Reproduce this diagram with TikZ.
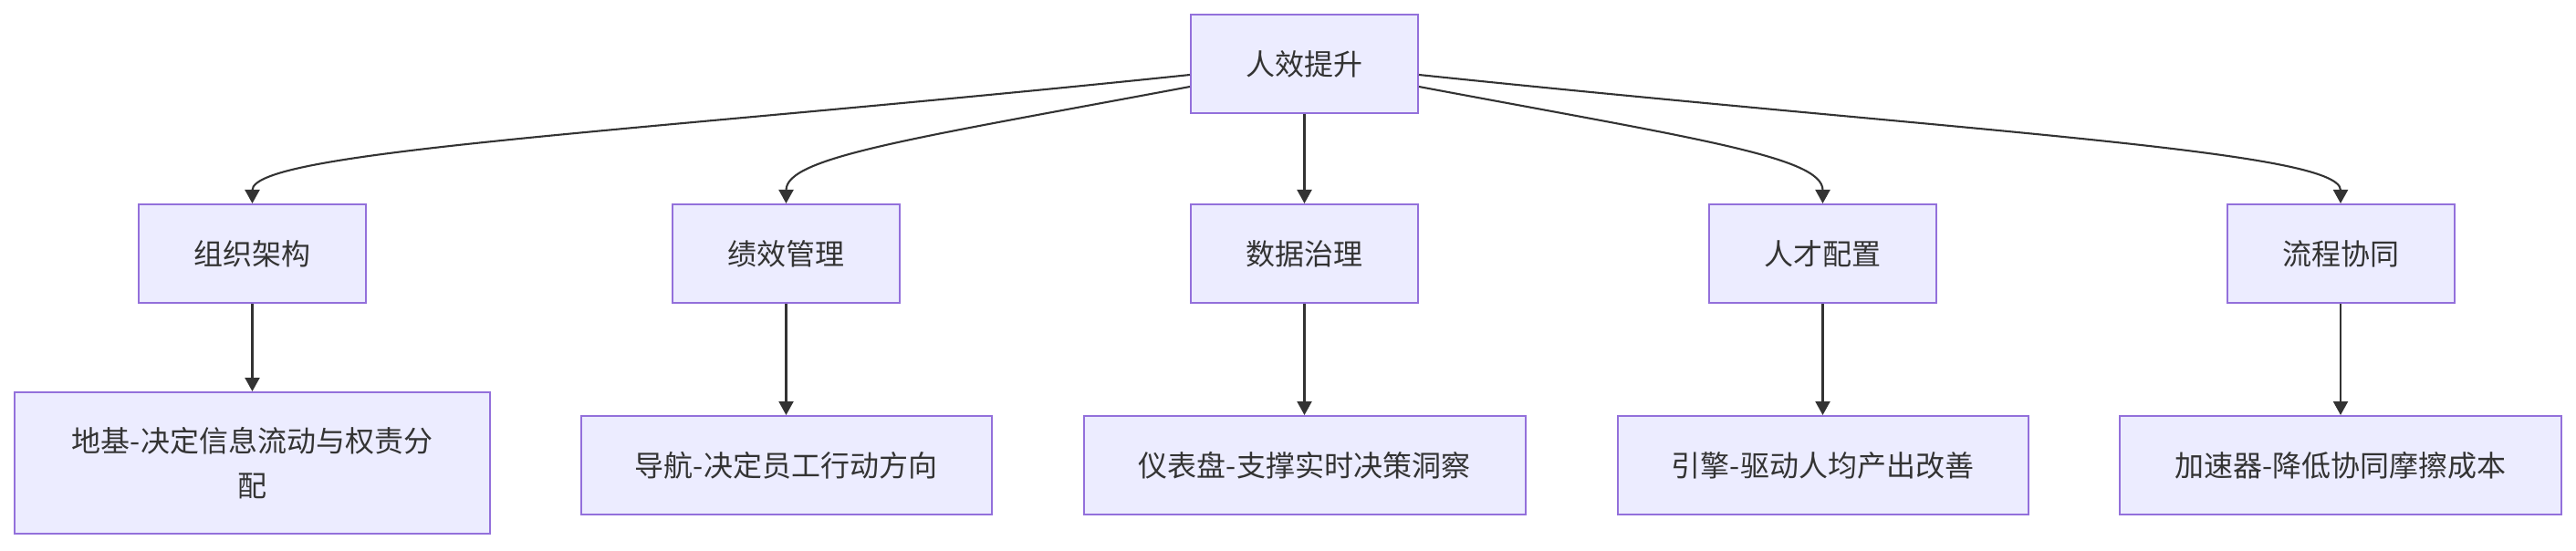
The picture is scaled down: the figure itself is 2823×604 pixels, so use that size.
\documentclass[tikz,border=0pt]{standalone}
\usepackage{fontspec}
\setmainfont{Noto Sans CJK SC}
\usetikzlibrary{arrows.meta}
\definecolor{boxfill}{HTML}{ECECFF}
\definecolor{boxline}{HTML}{9370DB}
\definecolor{ink}{HTML}{333333}
\tikzset{
  box/.style={draw=boxline, fill=boxfill, line width=2pt, inner sep=0pt,
    text=ink, align=center, font=\fontsize{32}{49}\selectfont},
  conn/.style={draw=ink, line width=2.1pt, -{Triangle[length=15pt,width=16pt]}}
}
\begin{document}
\begin{tikzpicture}[x=1pt,y=-1pt]
\useasboundingbox (0,0) rectangle (2823,604);
\node[box, minimum width=249pt, minimum height=108pt] (top) at (1429.5,70) {人效提升};
\node[box, minimum width=249pt, minimum height=108pt] (a) at (276.5,278) {组织架构};
\node[box, minimum width=249pt, minimum height=108pt] (b) at (861.5,278) {绩效管理};
\node[box, minimum width=249pt, minimum height=108pt] (c) at (1429.5,278) {数据治理};
\node[box, minimum width=249pt, minimum height=108pt] (d) at (1997.5,278) {人才配置};
\node[box, minimum width=249pt, minimum height=108pt] (e) at (2565,278) {流程协同};
\node[box, minimum width=521pt, minimum height=155pt] (a2) at (276.5,507.5) {地基-决定信息流动与权责分\\配};
\node[box, minimum width=450pt, minimum height=108pt] (b2) at (861.5,510) {导航-决定员工行动方向};
\node[box, minimum width=484pt, minimum height=108pt] (c2) at (1429.5,510) {仪表盘-支撑实时决策洞察};
\node[box, minimum width=450pt, minimum height=108pt] (d2) at (1997.5,510) {引擎-驱动人均产出改善};
\node[box, minimum width=484pt, minimum height=108pt] (e2) at (2565,510) {加速器-降低协同摩擦成本};
\coordinate (tl1) at ([yshift=-12pt]top.west);
\coordinate (tl2) at ([yshift=-25pt]top.west);
\coordinate (tr1) at ([yshift=-12pt]top.east);
\coordinate (tr2) at ([yshift=-25pt]top.east);
\draw[conn] (tl1) .. controls (700,145) and (276.5,165) .. (a.north);
\draw[conn] (tl2) .. controls (1000,152) and (861.5,172) .. (b.north);
\draw[conn] (top.south) -- (c.north);
\draw[conn] (tr2) .. controls (1859,152) and (1997.5,172) .. (d.north);
\draw[conn] (tr1) .. controls (2159,145) and (2565,165) .. (e.north);
\draw[conn] (a.south) -- (a2.north);
\draw[conn] (b.south) -- (b2.north);
\draw[conn] (c.south) -- (c2.north);
\draw[conn] (d.south) -- (d2.north);
\draw[conn] (e.south) -- (e2.north);
\end{tikzpicture}
\end{document}
